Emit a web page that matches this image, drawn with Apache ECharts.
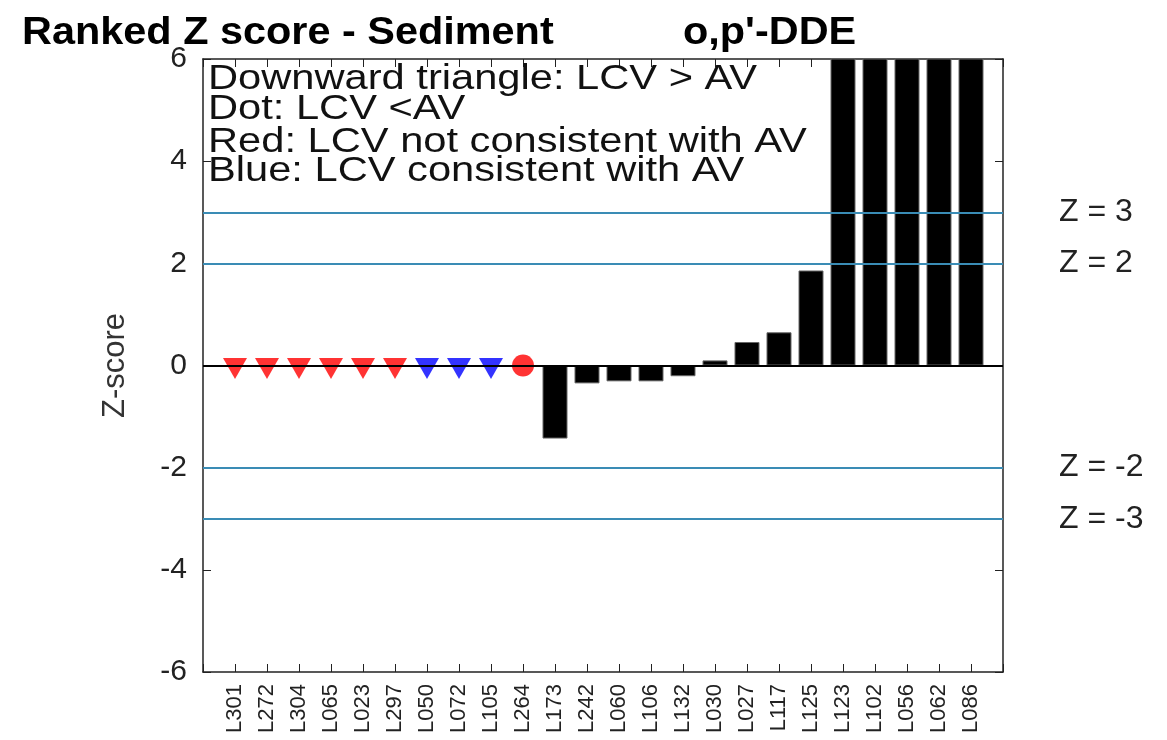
<!DOCTYPE html>
<html lang="en">
<head>
<meta charset="UTF-8">
<title>Ranked Z score - Sediment</title>
<script src="https://cdn.jsdelivr.net/npm/echarts@6/dist/echarts.min.js"></script>
<style>
    body { margin: 0; background: #fff; }
    #main { width: 1167px; height: 740px; }
</style>
</head>
<body>
<div id="main"></div>
<script>
// labs in ranked order
var labs = ['L301','L272','L304','L065','L023','L297','L050','L072','L105','L264',
            'L173','L242','L060','L106','L132','L030','L027','L117','L125','L123',
            'L102','L056','L062','L086'];
// labs drawn as markers on the zero line
var redTriangleLabs = ['L301','L272','L304','L065','L023','L297'];
var blueTriangleLabs = ['L050','L072','L105'];
var redDotLabs = ['L264'];
// labs with a bar, and their z-scores (last five run off the top of the plot)
var barLabs = ['L173','L242','L060','L106','L132','L030','L027','L117','L125','L123','L102','L056','L062','L086'];
var barZ = [-1.43, -0.35, -0.31, -0.31, -0.21, 0.1, 0.46, 0.65, 1.86, 7.5, 9, 12, 16, 25];
// reference lines
var zLines = [3, 2, -2, -3];
var yMin = -6, yMax = 6, yStep = 2;

var FONT = "'Liberation Sans', Arial, sans-serif";

function pos(name) { return labs.indexOf(name) + 1; }

var barData = barLabs.map(function (n, i) { return [pos(n), barZ[i]]; });
var redTri = redTriangleLabs.map(function (n) { return [pos(n), 0]; });
var blueTri = blueTriangleLabs.map(function (n) { return [pos(n), 0]; });
var redDot = redDotLabs.map(function (n) { return [pos(n), 0]; });

// fresh objects for every axis so nothing is shared between them
function frame() { return { show: true, onZero: false, lineStyle: { color: '#222', width: 1.5 } }; }
function ticks() { return { show: true, inside: true, length: 8, lineStyle: { color: '#222', width: 1 } }; }

var myChart = echarts.init(document.getElementById('main'));
myChart.setOption({
    animation: false,
    backgroundColor: '#fff',
    grid: { left: 203, right: 164, top: 59, bottom: 68 },
    graphic: [
        { type: 'text', x: 22, y: 15, scaleX: 1.09, style: { text: 'Ranked Z score - Sediment', font: 'bold 38px ' + FONT, fill: '#000' } },
        { type: 'text', x: 683, y: 15, scaleX: 1.09, style: { text: "o,p'-DDE", font: 'bold 38px ' + FONT, fill: '#000' } },
        { type: 'text', x: 208, y: 62, scaleX: 1.19, z: 100, style: { text: 'Downward triangle: LCV > AV', font: '35px ' + FONT, fill: '#111' } },
        { type: 'text', x: 208, y: 92, scaleX: 1.19, z: 100, style: { text: 'Dot: LCV <AV', font: '35px ' + FONT, fill: '#111' } },
        { type: 'text', x: 208, y: 125, scaleX: 1.19, z: 100, style: { text: 'Red: LCV not consistent with AV', font: '35px ' + FONT, fill: '#111' } },
        { type: 'text', x: 208, y: 154, scaleX: 1.19, z: 100, style: { text: 'Blue: LCV consistent with AV', font: '35px ' + FONT, fill: '#111' } }
    ],
    xAxis: [
        {
            type: 'value', position: 'bottom', min: 0, max: labs.length + 1, interval: 1,
            axisLine: frame(), axisTick: ticks(), splitLine: { show: false },
            axisLabel: {
                rotate: 90, margin: 12, fontSize: 22, fontFamily: FONT, color: '#222',
                formatter: function (v) { return labs[v - 1] || ''; }
            }
        },
        {
            type: 'value', position: 'top', min: 0, max: labs.length + 1, interval: 1,
            axisLine: frame(), axisTick: ticks(), splitLine: { show: false },
            axisLabel: { show: false }
        }
    ],
    yAxis: [
        {
            type: 'value', position: 'left', min: yMin, max: yMax, interval: yStep,
            axisLine: frame(), axisTick: ticks(), splitLine: { show: false },
            name: 'Z-score', nameLocation: 'middle', nameGap: 72,
            nameTextStyle: { fontSize: 31, fontFamily: FONT, color: '#333' },
            axisLabel: { margin: 16, fontSize: 30, fontFamily: FONT, color: '#222' }
        },
        {
            type: 'value', position: 'right', min: yMin, max: yMax, interval: yStep,
            axisLine: frame(), axisTick: ticks(), splitLine: { show: false },
            axisLabel: { show: false }
        }
    ],
    series: [
        {
            type: 'bar', data: barData, barWidth: 25, clip: true,
            itemStyle: { color: '#000', borderColor: '#666', borderWidth: 1 },
            markLine: {
                silent: true, symbol: 'none', z: 10,
                data: zLines.map(function (z) {
                    return {
                        yAxis: z,
                        lineStyle: { color: '#3a8cb5', width: 2, type: 'solid' },
                        label: { show: true, position: 'end', distance: 56, formatter: 'Z = ' + z,
                                 fontSize: 32, fontFamily: FONT, color: '#222' }
                    };
                }).concat([{ yAxis: 0, lineStyle: { color: '#000', width: 2, type: 'solid' }, label: { show: false } }])
            }
        },
        {
            type: 'scatter', data: redTri, symbol: 'triangle', symbolRotate: 180,
            symbolSize: [24, 21], symbolOffset: [0, 3], itemStyle: { color: '#ff0000' }, z: 3
        },
        {
            type: 'scatter', data: blueTri, symbol: 'triangle', symbolRotate: 180,
            symbolSize: [24, 21], symbolOffset: [0, 3], itemStyle: { color: '#0000ff' }, z: 3
        },
        {
            type: 'scatter', data: redDot, symbol: 'circle', symbolSize: 22,
            itemStyle: { color: '#ff0000' }, z: 3
        }
    ]
});
</script>
</body>
</html>
